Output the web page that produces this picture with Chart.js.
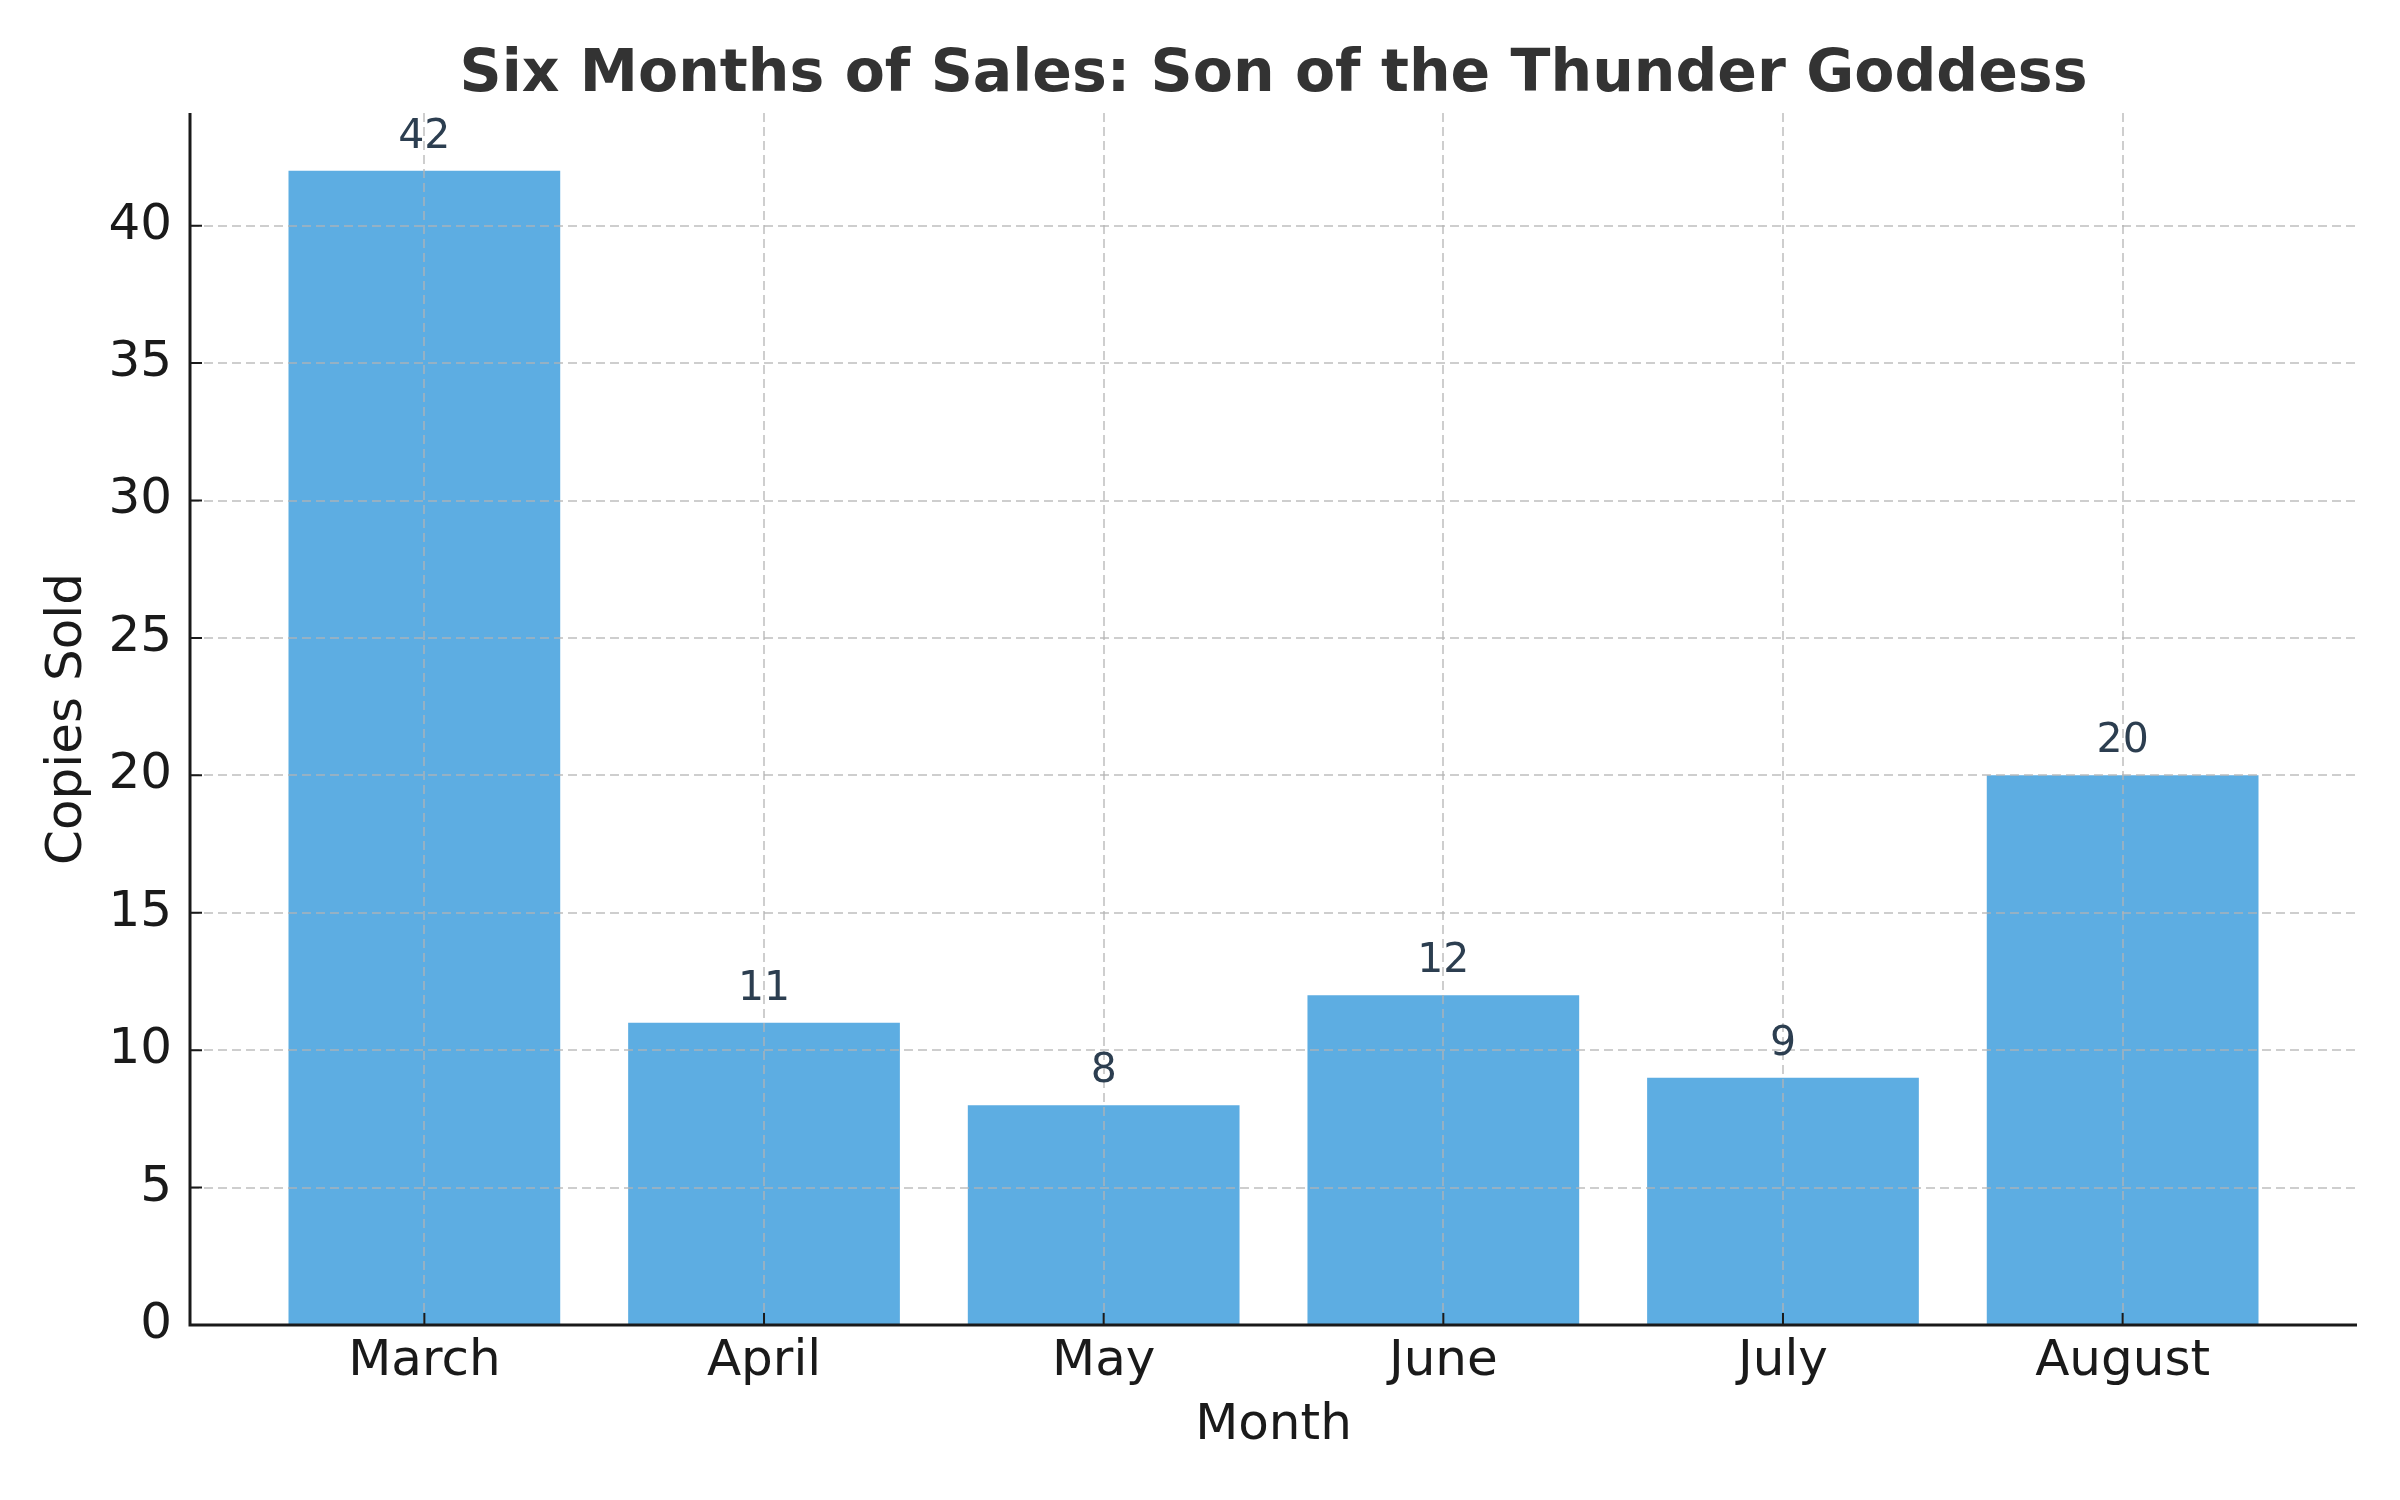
<!DOCTYPE html>
<html>
<head>
<meta charset="utf-8">
<script src="https://cdn.jsdelivr.net/npm/chart.js@4.4.1/dist/chart.umd.min.js"></script>
<style>
  html, body { margin: 0; padding: 0; background: #ffffff; }
  #wrap { width: 2400px; height: 1500px; }
</style>
</head>
<body>
<div id="wrap"><canvas id="salesChart" width="2400" height="1500"></canvas></div>
<script>
// chart data
const chartTitle = 'Six Months of Sales: Son of the Thunder Goddess';
const months = ['March', 'April', 'May', 'June', 'July', 'August'];
const copiesSold = [42, 11, 8, 12, 9, 20];
const yTicks = [0, 5, 10, 15, 20, 25, 30, 35, 40];

const barColor = '#5DADE2';
const inkColor = '#1a1a1a';
const gridColor = 'rgba(180, 180, 180, 0.65)';

Chart.defaults.font.family = '"DejaVu Sans", sans-serif';

// title, axis lines, inward ticks and value labels
const extras = {
    id: 'extras',
    afterDraw(chart) {
        const { ctx, chartArea: a, scales: { x, y } } = chart;
        ctx.save();

        ctx.fillStyle = '#333333';
        ctx.font = 'bold 58.5px "DejaVu Sans"';
        ctx.textAlign = 'center';
        ctx.textBaseline = 'alphabetic';
        ctx.fillText(chartTitle, (a.left + a.right) / 2, 91);

        ctx.strokeStyle = inkColor;
        ctx.lineWidth = 2;
        ctx.beginPath();
        yTicks.forEach(v => {
            const py = y.getPixelForValue(v);
            ctx.moveTo(a.left, py);
            ctx.lineTo(a.left + 12, py);
        });
        months.forEach((m, i) => {
            const px = x.getPixelForValue(i);
            ctx.moveTo(px, a.bottom);
            ctx.lineTo(px, a.bottom - 12);
        });
        ctx.stroke();

        ctx.lineWidth = 3;
        ctx.beginPath();
        ctx.moveTo(a.left, a.top);
        ctx.lineTo(a.left, a.bottom);
        ctx.lineTo(a.right, a.bottom);
        ctx.stroke();

        ctx.fillStyle = '#2c3e50';
        ctx.font = '41px "DejaVu Sans"';
        chart.getDatasetMeta(0).data.forEach((bar, i) => {
            ctx.fillText(String(copiesSold[i]), bar.x, bar.y - 23);
        });
        ctx.restore();
    }
};

new Chart(document.getElementById('salesChart'), {
    type: 'bar',
    data: {
        datasets: [{
            label: 'Copies Sold',
            data: months.map((m, i) => ({ x: i, y: copiesSold[i] })),
            backgroundColor: barColor,
            borderWidth: 0,
            categoryPercentage: 1,
            barPercentage: 0.8
        }]
    },
    options: {
        responsive: false,
        animation: false,
        devicePixelRatio: 1,
        layout: { padding: { top: 113, right: 43, bottom: 0, left: 0 } },
        plugins: {
            legend: { display: false },
            tooltip: { enabled: false },
            title: { display: false }
        },
        scales: {
            x: {
                type: 'linear',
                min: -0.69,
                max: 5.69,
                offset: false,
                afterBuildTicks: s => { s.ticks = months.map((m, i) => ({ value: i })); },
                afterFit: s => { s.height = 175; },
                grid: { color: gridColor, lineWidth: 2, drawTicks: false, offset: false, z: 1 },
                border: { display: false, dash: [9, 5] },
                ticks: {
                    padding: 7,
                    maxRotation: 0,
                    autoSkip: false,
                    color: inkColor,
                    font: { size: 50 },
                    callback: v => months[v] ?? ''
                },
                title: {
                    display: true,
                    text: 'Month',
                    color: inkColor,
                    font: { size: 50 },
                    padding: { top: 0, bottom: 44 }
                }
            },
            y: {
                min: 0,
                max: 44.1,
                afterBuildTicks: s => { s.ticks = yTicks.map(v => ({ value: v })); },
                afterFit: s => { s.width = 190; },
                grid: { color: gridColor, lineWidth: 2, drawTicks: false, z: 1 },
                border: { display: false, dash: [9, 5] },
                ticks: {
                    padding: 18,
                    color: inkColor,
                    font: { size: 50 }
                },
                title: {
                    display: true,
                    text: 'Copies Sold',
                    color: inkColor,
                    font: { size: 50 },
                    padding: { top: 38, bottom: 0 }
                }
            }
        }
    },
    plugins: [extras]
});
</script>
</body>
</html>
